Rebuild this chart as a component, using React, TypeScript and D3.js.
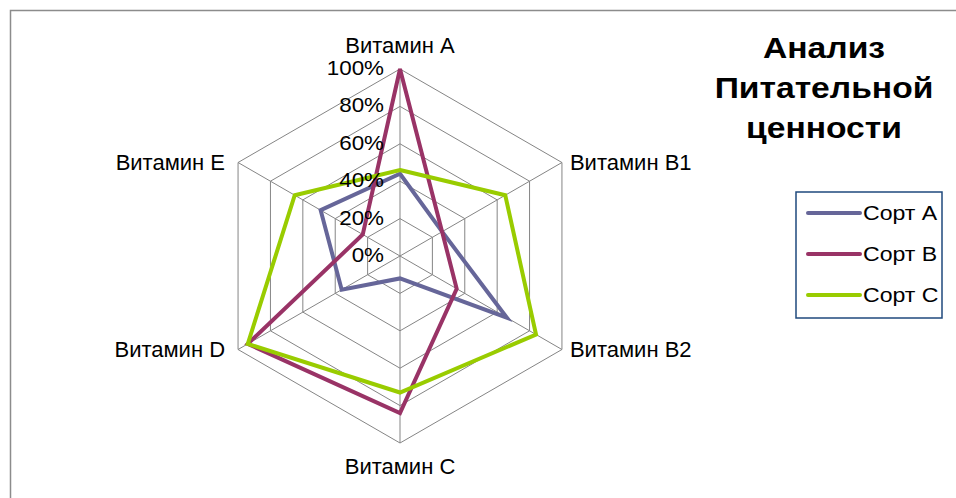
import React, { useEffect, useRef } from 'react';
import * as d3 from 'd3';

const axes = ['Витамин A', 'Витамин B1', 'Витамин B2', 'Витамин C', 'Витамин D', 'Витамин E'];
const seriesNames = ['Сорт A', 'Сорт B', 'Сорт C'];
const sortA = [44, 26, 66, 12, 36, 49];
const sortB = [100, 26, 35, 84, 94, 23];
const sortC = [46, 65, 84, 73, 94, 65];
const ticks = [0, 20, 40, 60, 80, 100];
const colors = ['#666699', '#993366', '#99CC00'];
const titleLines = ['Анализ', 'Питательной', 'ценности'];

const App = () => {
  const ref = useRef<SVGSVGElement>(null);

  useEffect(() => {
    const svg = d3.select(ref.current);
    svg.selectAll('*').remove();
    const font = 'Arial, "Liberation Sans", sans-serif';

    // frame (only top and left edges are visible in the crop)
    svg.append('path')
      .attr('d', 'M10.5,500 V10.5 H960')
      .attr('fill', 'none')
      .attr('stroke', '#8c8c8c')
      .attr('stroke-width', 1.5);

    const cx = 400, cy = 256, R = 187;
    const r = d3.scaleLinear().domain([0, 100]).range([0, R]);
    const angle = d3.scaleLinear().domain([0, axes.length]).range([0, 2 * Math.PI]);
    const pt = (i: number, v: number): [number, number] => {
      const a = angle(i);
      return [cx + r(v) * Math.sin(a), cy - r(v) * Math.cos(a)];
    };

    // text stretched horizontally, like the source rendering
    const wideText = (parent: any, x: number, y: number, sx: number, txt: string) =>
      parent.append('text')
        .attr('transform', `translate(${x},${y}) scale(${sx},1)`)
        .attr('font-family', font)
        .attr('fill', '#000')
        .text(txt);

    const g = svg.append('g');

    // grid rings
    ticks.filter(t => t > 0).forEach(t => {
      const pts = axes.map((_, i) => pt(i, t));
      g.append('path')
        .attr('d', d3.line()(pts) + 'Z')
        .attr('fill', 'none')
        .attr('stroke', '#858585')
        .attr('stroke-width', 1);
    });

    // spokes
    axes.forEach((_, i) => {
      const [x, y] = pt(i, 100);
      g.append('line')
        .attr('x1', cx).attr('y1', cy)
        .attr('x2', x).attr('y2', y)
        .attr('stroke', '#858585')
        .attr('stroke-width', 1);
    });

    // series
    const line = d3.line<number>()
      .x((d, i) => pt(i, d)[0])
      .y((d, i) => pt(i, d)[1])
      .curve(d3.curveLinearClosed);
    [sortA, sortB, sortC].forEach((vals, k) => {
      g.append('path')
        .attr('d', line(vals))
        .attr('fill', 'none')
        .attr('stroke', colors[k])
        .attr('stroke-width', 4)
        .attr('stroke-linejoin', 'miter');
    });

    // tick labels on the first axis
    ticks.forEach(t => {
      const [, y] = pt(0, t);
      wideText(g, cx - 16, y - 1, 1.12, t + '%')
        .attr('dy', '0.35em')
        .attr('text-anchor', 'end')
        .attr('font-size', 20);
    });

    // category labels
    axes.forEach((name, i) => {
      const [x, y] = pt(i, 100);
      const dx = x - cx;
      let anchor = 'middle', lx = x, ly = y;
      if (Math.abs(dx) < 1) {
        ly = y < cy ? y - 24 : y + 23;
      } else if (dx > 0) {
        anchor = 'start'; lx = x + 8;
      } else {
        anchor = 'end'; lx = x - 13;
      }
      g.append('text')
        .attr('x', lx)
        .attr('y', ly)
        .attr('dy', '0.35em')
        .attr('text-anchor', anchor)
        .attr('font-family', font)
        .attr('font-size', 22)
        .attr('fill', '#000')
        .text(name);
    });

    // title
    titleLines.forEach((t, i) => {
      wideText(svg, 824, 58 + i * 40, 1.16, t)
        .attr('text-anchor', 'middle')
        .attr('font-weight', 'bold')
        .attr('font-size', 29);
    });

    // legend
    const lg = svg.append('g').attr('transform', 'translate(796,192)');
    lg.append('rect')
      .attr('width', 146)
      .attr('height', 126)
      .attr('fill', '#fff')
      .attr('stroke', '#1f497d')
      .attr('stroke-width', 1.5);
    seriesNames.forEach((s, k) => {
      const y = 21 + k * 41;
      lg.append('line')
        .attr('x1', 12).attr('x2', 64)
        .attr('y1', y).attr('y2', y)
        .attr('stroke', colors[k])
        .attr('stroke-width', 4)
        .attr('stroke-linecap', 'round');
      wideText(lg, 67, y, 1.1, s)
        .attr('dy', '0.35em')
        .attr('font-size', 21);
    });
  }, []);

  return (
    <svg ref={ref} width={956} height={498} style={{ position: 'absolute', left: 0, top: 0, background: '#fff' }}></svg>
  );
};

export default App;
